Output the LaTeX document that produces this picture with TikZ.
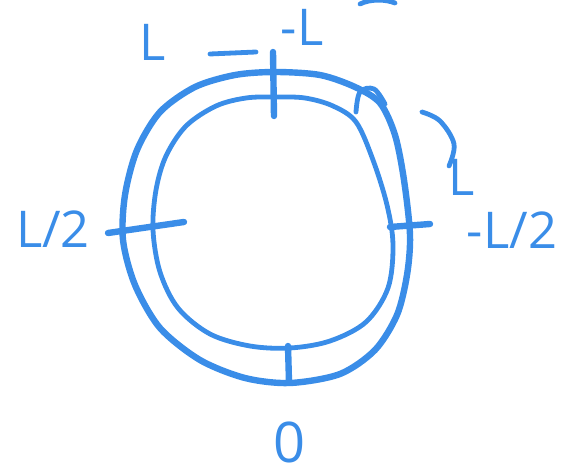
\documentclass[tikz,border=0pt]{standalone}
\usepackage{fontspec}
\setmainfont{Open Sans}
\definecolor{pen}{HTML}{3A8DE8}
\begin{document}
\begin{tikzpicture}[x=0.75pt,y=-0.75pt,
  ink/.style={draw=pen,line width=4.8pt,line cap=round,line join=round},
  thin ink/.style={draw=pen,line width=3.6pt,line cap=round,line join=round},
  lbl/.style={text=pen,font=\fontsize{38}{40}\selectfont,inner sep=0pt}]
\useasboundingbox (0,0) rectangle (576,474);
% outer ring
\draw[ink] plot[smooth cycle,tension=0.5] coordinates {
 (275,72) (320,75) (355,87) (380,103) (395,135) (404,180) (410,235)
 (407,275) (397,315) (375,350) (340,374) (290,383) (245,378) (200,360)
 (160,328) (135,285) (123,240) (125,195) (137,150) (160,112) (195,87) (235,75)};
% inner ring
\draw[thin ink] plot[smooth cycle,tension=0.55] coordinates {
 (275,97) (305,98) (333,106) (356,122) (373,160) (387,205) (393,245)
 (388,288) (366,322) (330,341) (290,348) (250,346)
 (210,334) (178,308) (160,272) (153,230) (156,190) (166,156) (186,126)
 (216,106) (246,98)};
% small bump at top right
\draw[thin ink] plot[smooth,tension=0.6] coordinates {(356,112) (360,92) (374,89) (385,104)};
% tick marks
\draw[ink] (273,52) -- (274,116);
\draw[ink] (288,346) -- (289,382);
\draw[ink] (108,233) -- (184,222);
\draw[ink] (390,227) -- (430,224);
% curved stroke toward L
\draw[thin ink] plot[smooth,tension=0.6] coordinates {(422,112) (440,121) (454,144) (449,166)};
% dash between L and -L
\draw[thin ink] (210,54) -- (256,52);
% top-right partial mark
\draw[thin ink] (360,4) .. controls (370,-1) and (385,-1) .. (395,3);
% labels
\node[lbl] (ltop) at (153,42) {L};
\node[lbl] (mltop) at (302,27) {-L};
\node[lbl] (lright) at (462,177) {L};
\node[lbl] (half) at (53,229) {L/2};
\node[lbl] (mhalf) at (512,230) {-L/2};
\node[lbl,font=\fontsize{42}{44}\selectfont] (zero) at (290,442) {0};
\end{tikzpicture}
\end{document}
